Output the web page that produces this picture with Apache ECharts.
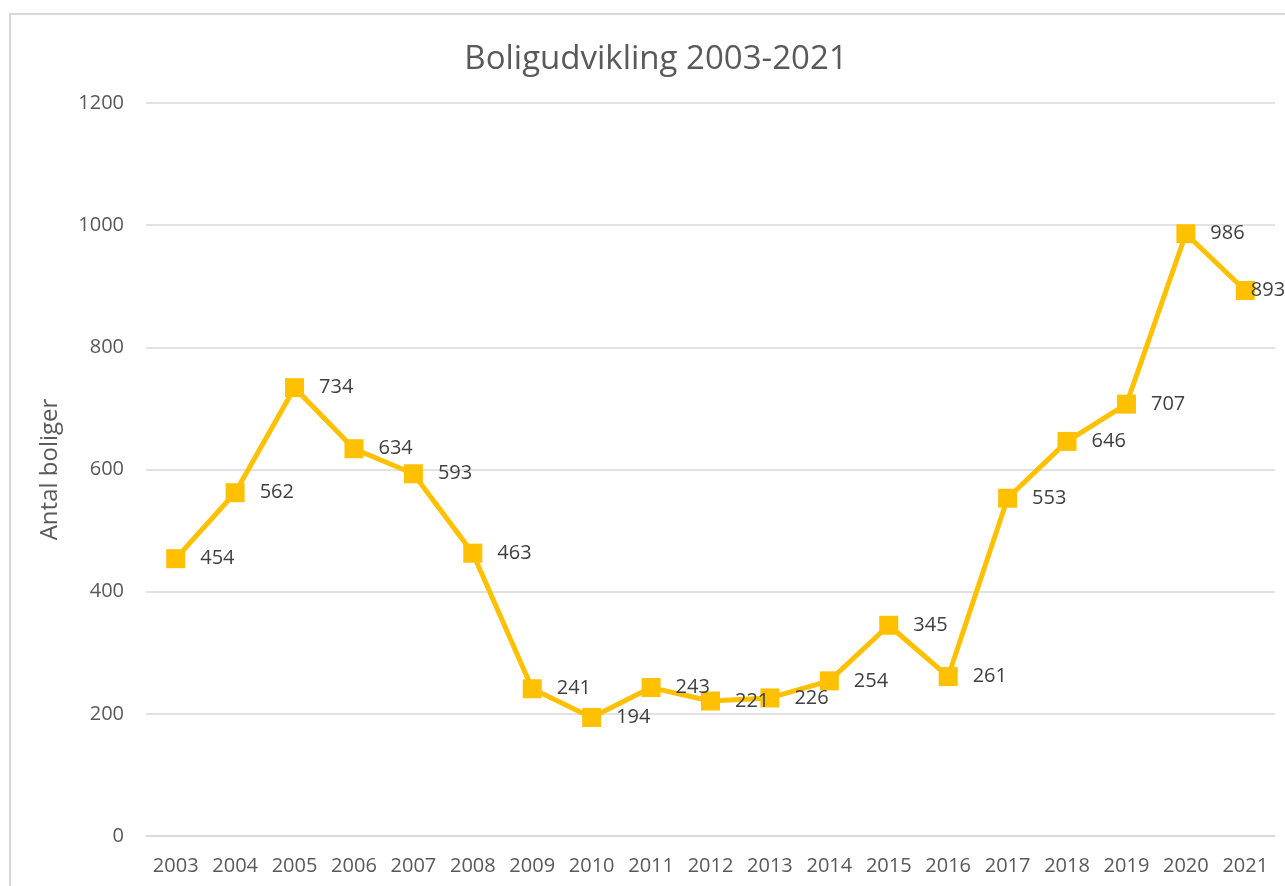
<!DOCTYPE html>
<html>
<head>
<meta charset="utf-8">
<script src="https://cdn.jsdelivr.net/npm/echarts@6/dist/echarts.min.js"></script>
<style>
  html, body { margin: 0; padding: 0; background: #fff; }
  #main { width: 1285px; height: 886px; }
</style>
</head>
<body>
<div id="main"></div>
<script>
  // data
  const years = ['2003', '2004', '2005', '2006', '2007', '2008', '2009', '2010', '2011', '2012',
    '2013', '2014', '2015', '2016', '2017', '2018', '2019', '2020', '2021']
  const boliger = [454, 562, 734, 634, 593, 463, 241, 194, 243, 221,
    226, 254, 345, 261, 553, 646, 707, 986, 893]

  const font = '"Open Sans", "Noto Sans", sans-serif'
  const gold = '#FFC000'

  var myChart = echarts.init(document.getElementById('main'))

  // last label is pushed back inside the chart area, like the original
  const seriesData = boliger.map(function (v, i) {
    if (i === boliger.length - 1) {
      return { value: v, label: { offset: [-19, 0] } }
    }
    return v
  })

  var option = {
    animation: false,
    textStyle: { fontFamily: font },
    graphic: [
      {
        type: 'rect',
        shape: { x: 10, y: 14, width: 1400, height: 1000 },
        style: { fill: 'none', stroke: '#d9d9d9', lineWidth: 2 },
        silent: true
      }
    ],
    title: {
      text: 'Boligudvikling 2003-2021',
      left: 651,
      textAlign: 'center',
      top: 38,
      textStyle: {
        fontFamily: font,
        fontSize: 33,
        fontWeight: 'normal',
        color: '#595959'
      }
    },
    grid: {
      left: 146,
      right: 10,
      top: 103,
      bottom: 50
    },
    xAxis: {
      type: 'category',
      data: years,
      boundaryGap: true,
      axisLine: { show: true, lineStyle: { color: '#d9d9d9', width: 1.5 } },
      axisTick: { show: false },
      axisLabel: {
        color: '#595959',
        fontSize: 20,
        fontFamily: font,
        margin: 20,
        interval: 0
      }
    },
    yAxis: {
      type: 'value',
      min: 0,
      max: 1200,
      interval: 200,
      name: 'Antal boliger',
      nameLocation: 'middle',
      nameRotate: 90,
      nameGap: 84,
      nameTextStyle: {
        color: '#595959',
        fontSize: 24,
        fontFamily: font
      },
      axisLine: { show: false },
      axisTick: { show: false },
      axisLabel: {
        color: '#595959',
        fontSize: 20,
        fontFamily: font,
        margin: 22,
        formatter: function (v) { return String(v) }
      },
      splitLine: { lineStyle: { color: '#d9d9d9', width: 1.5 } }
    },
    series: [
      {
        name: 'Antal boliger',
        type: 'line',
        data: seriesData,
        symbol: 'rect',
        symbolSize: 19,
        lineStyle: { color: gold, width: 5 },
        itemStyle: { color: gold },
        label: {
          show: true,
          position: 'right',
          distance: 15,
          color: '#404040',
          fontSize: 20,
          fontFamily: font
        }
      }
    ]
  }

  myChart.setOption(option)
</script>
</body>
</html>
